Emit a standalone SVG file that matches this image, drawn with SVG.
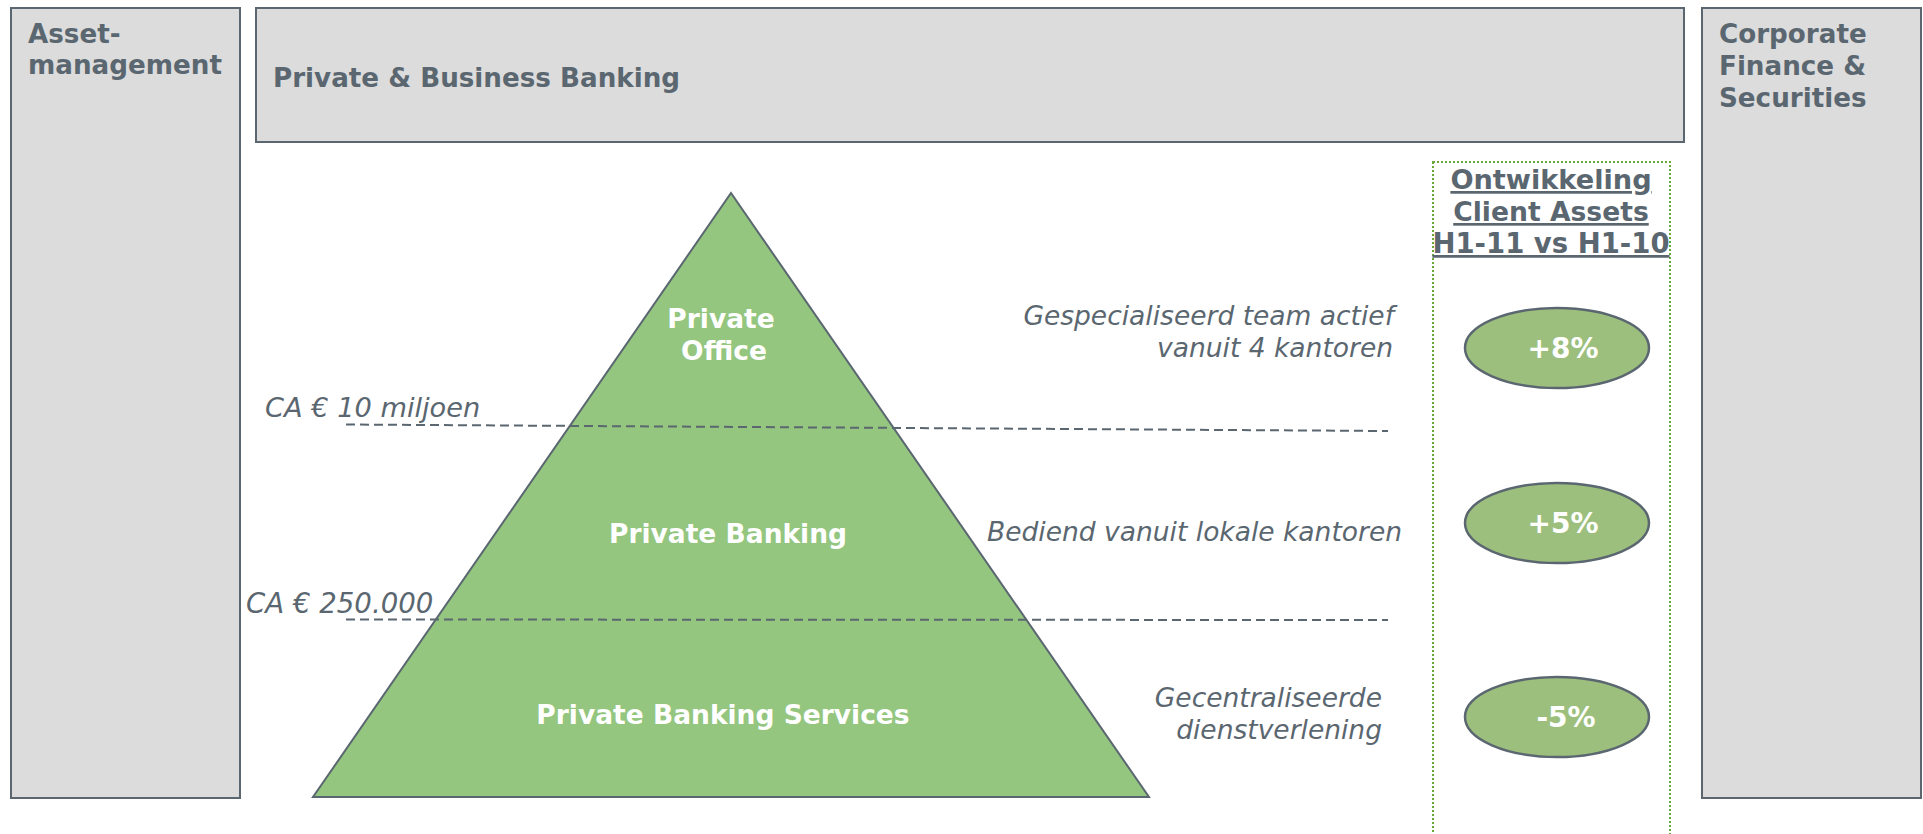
<svg xmlns="http://www.w3.org/2000/svg" width="1923" height="834" viewBox="0 0 1923 834">
<style>
.box{fill:#dcdcdc;stroke:#5b6770;stroke-width:2}
.hd{font-family:"DejaVu Sans",Verdana,sans-serif;font-weight:bold;font-size:26.2px;fill:#5b6770}
.wt{font-family:"DejaVu Sans",Verdana,sans-serif;font-weight:bold;font-size:26.5px;fill:#ffffff}
.pc{font-family:"DejaVu Sans",Verdana,sans-serif;font-weight:bold;font-size:28px;fill:#ffffff}
.it{font-family:"DejaVu Sans",Verdana,sans-serif;font-style:italic;font-size:26.5px;fill:#5b6770}
.dash{stroke:#5b6770;stroke-width:2;stroke-dasharray:9,5;fill:none}
.ell{fill:#9dbf7e;stroke:#5b6770;stroke-width:2.5}
</style>
<rect width="1923" height="834" fill="#ffffff"/>
<g id="asset-management">
<rect class="box" x="11" y="8" width="229" height="790"/>
<text class="hd" x="28" y="43">Asset-</text>
<text class="hd" x="28" y="74">management</text>
</g>
<g id="private-business-banking">
<rect class="box" x="256" y="8" width="1428" height="134"/>
<text class="hd" x="273" y="87">Private &amp; Business Banking</text>
</g>
<g id="corporate-finance">
<rect class="box" x="1702" y="8" width="219" height="790"/>
<text class="hd" x="1719" y="43">Corporate</text>
<text class="hd" x="1719" y="75">Finance &amp;</text>
<text class="hd" x="1719" y="107">Securities</text>
</g>
<g id="pyramid">
<polygon points="731,193 1149,797 313,797" fill="#94c67f" stroke="#5b6770" stroke-width="2"/>
<text class="wt" x="721" y="328" text-anchor="middle">Private</text>
<text class="wt" x="724" y="360" text-anchor="middle">Office</text>
<text class="wt" x="728" y="543" text-anchor="middle">Private Banking</text>
<text class="wt" x="723" y="724" text-anchor="middle">Private Banking Services</text>
</g>
<g id="dividers">
<line class="dash" x1="346" y1="424.5" x2="1388" y2="431"/>
<line class="dash" x1="346" y1="619.5" x2="1388" y2="620"/>
</g>
<g id="threshold-labels">
<text class="it" x="265" y="417" style="font-size:27.2px">CA € 10 miljoen</text>
<text class="it" x="246" y="613" style="font-size:27.6px">CA € 250.000</text>
</g>
<g id="descriptions">
<text class="it" x="1394" y="325" text-anchor="end">Gespecialiseerd team actief</text>
<text class="it" x="1393" y="357" text-anchor="end">vanuit 4 kantoren</text>
<text class="it" x="1402" y="541" text-anchor="end">Bediend vanuit lokale kantoren</text>
<text class="it" x="1382" y="707" text-anchor="end">Gecentraliseerde</text>
<text class="it" x="1382" y="739" text-anchor="end">dienstverlening</text>
</g>
<g id="client-assets">
<rect x="1433" y="162" width="237" height="700" fill="none" stroke="#6aa834" stroke-width="2" stroke-dasharray="2,2"/>
<text class="hd" x="1551" y="189" text-anchor="middle" text-decoration="underline" style="font-size:27.2px">Ontwikkeling</text>
<text class="hd" x="1551" y="221" text-anchor="middle" text-decoration="underline" style="font-size:26.6px">Client Assets</text>
<text class="hd" x="1551" y="253" text-anchor="middle" text-decoration="underline" style="font-size:27.5px">H1-11 vs H1-10</text>
</g>
<g id="growth-po">
<ellipse class="ell" cx="1557" cy="348" rx="92" ry="40"/>
<text class="pc" x="1563" y="358" text-anchor="middle">+8%</text>
</g>
<g id="growth-pb">
<ellipse class="ell" cx="1557" cy="523" rx="92" ry="40"/>
<text class="pc" x="1563" y="533" text-anchor="middle">+5%</text>
</g>
<g id="growth-pbs">
<ellipse class="ell" cx="1557" cy="717" rx="92" ry="40"/>
<text class="pc" x="1566" y="727" text-anchor="middle">-5%</text>
</g>
</svg>
